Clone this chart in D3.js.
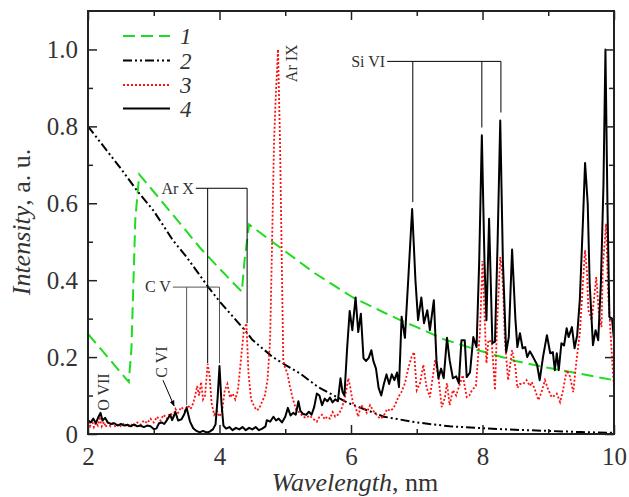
<!DOCTYPE html>
<html>
<head>
<meta charset="utf-8">
<script src="https://cdn.jsdelivr.net/npm/d3@7"></script>
<style>
  body { margin: 0; background: #fff; }
  svg, svg text { font-family: "Liberation Serif", "DejaVu Serif", serif; }
  .tick text { font-size: 25px; fill: #333; }
  .ann { font-size: 16px; fill: #333; }
</style>
</head>
<body>
<div id="chart"></div>
<script>
var width = 629,
  height = 497;
var margins = { top: 11, right: 15, bottom: 63, left: 88 };
var serif = "Liberation Serif";

var legend_labels = ["1", "2", "3", "4"];
var x_ticks = [2, 4, 6, 8, 10];
var x_minor = [3, 5, 7, 9];
var y_ticks = [0, 0.2, 0.4, 0.6, 0.8, 1.0];
var y_minor = [0.1, 0.3, 0.5, 0.7, 0.9];

// 1 - green dashed
var series_1 = [
  [2.0, 0.26], [2.3, 0.2], [2.62, 0.135], [2.66, 0.22], [2.72, 0.56], [2.78, 0.675],
  [3.0, 0.63], [3.5, 0.527], [3.7, 0.485], [4.0, 0.43], [4.34, 0.37], [4.38, 0.45],
  [4.45, 0.545], [5.0, 0.475], [5.45, 0.418], [6.03, 0.355], [6.5, 0.316], [6.75, 0.296],
  [7.0, 0.278], [7.4, 0.247], [7.93, 0.218], [8.5, 0.19], [9.0, 0.172], [9.44, 0.158],
  [10.0, 0.14]
];

// 2 - black dash-dot-dot
var series_2 = [
  [2.0, 0.8], [2.5, 0.69], [2.74, 0.634], [3.0, 0.58], [3.29, 0.504], [3.5, 0.46],
  [3.83, 0.382], [4.0, 0.345], [4.41, 0.265], [4.5, 0.245], [4.81, 0.2], [5.0, 0.18],
  [5.22, 0.158], [5.5, 0.122], [5.93, 0.083], [6.0, 0.078], [6.5, 0.045], [7.0, 0.03],
  [7.5, 0.02], [8.0, 0.015], [8.5, 0.011], [9.0, 0.008], [9.5, 0.005], [10.0, 0.003]
];

// 3 - red dotted
var series_3 = [
  [2.0, 0.03], [2.03, 0.02], [2.06, 0.035], [2.09, 0.018], [2.12, 0.03], [2.15, 0.022],
  [2.18, 0.04], [2.21, 0.02], [2.24, 0.032], [2.27, 0.018], [2.3, 0.03], [2.34, 0.02],
  [2.38, 0.028], [2.42, 0.018], [2.46, 0.026], [2.5, 0.02], [2.55, 0.028], [2.6, 0.018],
  [2.65, 0.026], [2.7, 0.02], [2.75, 0.03], [2.8, 0.024], [2.85, 0.035], [2.9, 0.028],
  [2.95, 0.04], [3.0, 0.03], [3.05, 0.045], [3.1, 0.035], [3.15, 0.05], [3.2, 0.04],
  [3.25, 0.055], [3.3, 0.045], [3.33, 0.065], [3.37, 0.055], [3.42, 0.07], [3.47, 0.06],
  [3.52, 0.075], [3.56, 0.065], [3.6, 0.08], [3.63, 0.1], [3.66, 0.125], [3.69, 0.1],
  [3.72, 0.135], [3.75, 0.09], [3.78, 0.1], [3.82, 0.182], [3.85, 0.15], [3.88, 0.08],
  [3.92, 0.05], [3.96, 0.06], [4.0, 0.045], [4.04, 0.06], [4.08, 0.114], [4.12, 0.13],
  [4.16, 0.095], [4.2, 0.105], [4.24, 0.09], [4.28, 0.114], [4.33, 0.2], [4.37, 0.27],
  [4.41, 0.288], [4.44, 0.16], [4.48, 0.09], [4.52, 0.075], [4.56, 0.062], [4.6, 0.065],
  [4.65, 0.085], [4.69, 0.1], [4.73, 0.14], [4.77, 0.244], [4.8, 0.5], [4.83, 0.764],
  [4.86, 0.894], [4.89, 1.0], [4.92, 0.764], [4.95, 0.418], [4.97, 0.192], [5.0, 0.17],
  [5.03, 0.16], [5.07, 0.125], [5.12, 0.088], [5.17, 0.062], [5.22, 0.055], [5.27, 0.045],
  [5.32, 0.042], [5.37, 0.048], [5.42, 0.04], [5.48, 0.032], [5.52, 0.045], [5.56, 0.05],
  [5.6, 0.038], [5.64, 0.045], [5.68, 0.04], [5.72, 0.057], [5.76, 0.045], [5.8, 0.05],
  [5.85, 0.062], [5.91, 0.096], [5.96, 0.145], [5.99, 0.12], [6.03, 0.08], [6.07, 0.07],
  [6.11, 0.045], [6.15, 0.075], [6.19, 0.07], [6.24, 0.055], [6.29, 0.075], [6.34, 0.06],
  [6.39, 0.05], [6.44, 0.04], [6.49, 0.045], [6.55, 0.065], [6.6, 0.06], [6.65, 0.068],
  [6.72, 0.096], [6.77, 0.11], [6.82, 0.132], [6.87, 0.17], [6.92, 0.2], [6.96, 0.213],
  [7.0, 0.114], [7.05, 0.132], [7.1, 0.18], [7.15, 0.12], [7.2, 0.096], [7.28, 0.192],
  [7.33, 0.148], [7.38, 0.07], [7.43, 0.096], [7.46, 0.132], [7.5, 0.075], [7.55, 0.114],
  [7.6, 0.1], [7.64, 0.122], [7.7, 0.153], [7.76, 0.096], [7.8, 0.1], [7.84, 0.114],
  [7.9, 0.125], [7.96, 0.262], [8.0, 0.45], [8.04, 0.27], [8.06, 0.184], [8.09, 0.244],
  [8.14, 0.24], [8.19, 0.114], [8.22, 0.278], [8.27, 0.46], [8.3, 0.418], [8.32, 0.348],
  [8.34, 0.244], [8.39, 0.14], [8.45, 0.218], [8.5, 0.174], [8.53, 0.12], [8.57, 0.13],
  [8.62, 0.13], [8.67, 0.14], [8.72, 0.125], [8.75, 0.135], [8.8, 0.114], [8.85, 0.088],
  [8.9, 0.11], [8.95, 0.14], [8.99, 0.12], [9.05, 0.096], [9.1, 0.1], [9.13, 0.105],
  [9.18, 0.083], [9.22, 0.11], [9.28, 0.166], [9.33, 0.15], [9.38, 0.109], [9.43, 0.192],
  [9.48, 0.262], [9.53, 0.4], [9.56, 0.478], [9.59, 0.418], [9.61, 0.322], [9.66, 0.296],
  [9.7, 0.357], [9.73, 0.408], [9.77, 0.313], [9.81, 0.278], [9.83, 0.435], [9.88, 0.547],
  [9.91, 0.366], [9.97, 0.2], [10.0, 0.12]
];

// 4 - black solid
var series_4 = [
  [2.0, 0.036], [2.04, 0.03], [2.08, 0.04], [2.12, 0.028], [2.16, 0.045], [2.19, 0.055],
  [2.22, 0.035], [2.26, 0.042], [2.3, 0.03], [2.35, 0.026], [2.4, 0.028], [2.45, 0.022],
  [2.5, 0.026], [2.55, 0.022], [2.6, 0.024], [2.65, 0.02], [2.7, 0.025], [2.75, 0.02],
  [2.8, 0.022], [2.85, 0.018], [2.9, 0.022], [2.95, 0.02], [3.0, 0.013], [3.04, 0.014],
  [3.08, 0.028], [3.12, 0.03], [3.16, 0.026], [3.2, 0.036], [3.25, 0.05], [3.28, 0.036],
  [3.33, 0.057], [3.37, 0.035], [3.42, 0.038], [3.46, 0.05], [3.5, 0.068], [3.55, 0.033],
  [3.6, 0.015], [3.65, 0.008], [3.7, 0.004], [3.75, 0.008], [3.8, 0.004], [3.85, 0.006],
  [3.9, 0.012], [3.94, 0.025], [3.97, 0.09], [4.0, 0.177], [4.03, 0.08], [4.06, 0.022],
  [4.1, 0.014], [4.15, 0.018], [4.2, 0.01], [4.25, 0.016], [4.3, 0.012], [4.35, 0.018],
  [4.4, 0.01], [4.45, 0.016], [4.5, 0.012], [4.55, 0.018], [4.6, 0.01], [4.65, 0.014],
  [4.7, 0.02], [4.72, 0.036], [4.77, 0.032], [4.82, 0.045], [4.86, 0.035], [4.9, 0.04],
  [4.95, 0.03], [5.0, 0.045], [5.04, 0.068], [5.08, 0.048], [5.12, 0.055], [5.16, 0.05],
  [5.2, 0.085], [5.23, 0.06], [5.27, 0.052], [5.32, 0.05], [5.36, 0.058], [5.4, 0.05],
  [5.44, 0.07], [5.48, 0.105], [5.52, 0.1], [5.56, 0.075], [5.6, 0.092], [5.64, 0.085],
  [5.68, 0.095], [5.72, 0.082], [5.76, 0.09], [5.8, 0.085], [5.84, 0.145], [5.87, 0.11],
  [5.9, 0.1], [5.94, 0.22], [5.98, 0.32], [6.02, 0.27], [6.07, 0.355], [6.11, 0.265],
  [6.15, 0.313], [6.19, 0.197], [6.23, 0.19], [6.27, 0.198], [6.31, 0.218], [6.34, 0.19],
  [6.38, 0.17], [6.42, 0.12], [6.46, 0.1], [6.5, 0.13], [6.54, 0.155], [6.58, 0.13],
  [6.62, 0.155], [6.66, 0.14], [6.7, 0.16], [6.73, 0.122], [6.77, 0.305], [6.82, 0.25],
  [6.87, 0.4], [6.93, 0.585], [6.98, 0.4], [7.02, 0.296], [7.07, 0.355], [7.11, 0.288],
  [7.16, 0.322], [7.2, 0.27], [7.26, 0.348], [7.3, 0.192], [7.33, 0.145], [7.37, 0.17],
  [7.41, 0.145], [7.46, 0.25], [7.5, 0.192], [7.55, 0.145], [7.6, 0.15], [7.64, 0.132],
  [7.68, 0.244], [7.73, 0.244], [7.76, 0.148], [7.81, 0.16], [7.86, 0.252], [7.91, 0.226],
  [7.95, 0.45], [7.99, 0.777], [8.03, 0.45], [8.06, 0.296], [8.1, 0.56], [8.15, 0.236],
  [8.19, 0.24], [8.23, 0.5], [8.27, 0.815], [8.31, 0.45], [8.36, 0.213], [8.4, 0.252],
  [8.45, 0.48], [8.5, 0.3], [8.53, 0.226], [8.57, 0.262], [8.61, 0.223], [8.65, 0.226],
  [8.68, 0.2], [8.72, 0.215], [8.77, 0.2], [8.83, 0.18], [8.87, 0.14], [8.92, 0.2],
  [8.98, 0.257], [9.03, 0.21], [9.07, 0.213], [9.1, 0.166], [9.13, 0.21], [9.16, 0.166],
  [9.2, 0.236], [9.24, 0.23], [9.28, 0.275], [9.31, 0.252], [9.36, 0.278], [9.4, 0.223],
  [9.44, 0.257], [9.48, 0.348], [9.53, 0.564], [9.56, 0.705], [9.6, 0.6], [9.63, 0.392],
  [9.68, 0.231], [9.72, 0.27], [9.76, 0.244], [9.8, 0.39], [9.84, 0.65], [9.87, 1.0],
  [9.9, 0.6], [9.93, 0.305], [9.97, 0.3], [10.0, 0.245]
];

var svg = d3
  .select("#chart")
  .append("svg")
  .attr("width", width)
  .attr("height", height)
  .attr("font-family", serif);

var x = d3
  .scaleLinear()
  .domain([2, 10])
  .range([margins.left, width - margins.right]);

var y = d3
  .scaleLinear()
  .domain([0, 1.1])
  .range([height - margins.bottom, margins.top]);

var line = d3
  .line()
  .x((d) => x(d[0]))
  .y((d) => y(d[1]));

// Curves
svg.append("path").datum(series_1).attr("d", line)
  .attr("fill", "none").attr("stroke", "#1edc1e").attr("stroke-width", 2)
  .attr("stroke-dasharray", "12,6");

svg.append("path").datum(series_2).attr("d", line)
  .attr("fill", "none").attr("stroke", "#000").attr("stroke-width", 2)
  .attr("stroke-dasharray", "9,3,2,3,2,3");

svg.append("path").datum(series_3).attr("d", line)
  .attr("fill", "none").attr("stroke", "#ff1010").attr("stroke-width", 1.8)
  .attr("stroke-dasharray", "2,2");

svg.append("path").datum(series_4).attr("d", line)
  .attr("fill", "none").attr("stroke", "#000").attr("stroke-width", 2)
  .attr("stroke-linejoin", "round");

// Axes, ticks pointing inwards
function styleAxis(g) {
  g.attr("font-family", serif).attr("font-size", 25);
  g.select(".domain").remove();
  g.selectAll(".tick line").attr("stroke", "#222").attr("stroke-width", 1.5);
  g.selectAll(".tick text").attr("font-family", serif).attr("fill", "#333");
}

svg.append("g")
  .attr("transform", "translate(0," + y(0) + ")")
  .call(d3.axisBottom(x).tickValues(x_ticks).tickSize(-9).tickPadding(13).tickFormat(d3.format("d")))
  .call(styleAxis);
svg.append("g")
  .attr("transform", "translate(0," + y(0) + ")")
  .call(d3.axisBottom(x).tickValues(x_minor).tickSize(-5).tickFormat(""))
  .call(styleAxis);
svg.append("g")
  .attr("transform", "translate(0," + y(1.1) + ")")
  .call(d3.axisTop(x).tickValues(x_ticks).tickSize(-9).tickFormat(""))
  .call(styleAxis);
svg.append("g")
  .attr("transform", "translate(0," + y(1.1) + ")")
  .call(d3.axisTop(x).tickValues(x_minor).tickSize(-5).tickFormat(""))
  .call(styleAxis);

svg.append("g")
  .attr("transform", "translate(" + x(2) + ",0)")
  .call(d3.axisLeft(y).tickValues(y_ticks).tickSize(-9).tickPadding(10)
    .tickFormat((d) => (d === 0 ? "0" : d3.format(".1f")(d))))
  .call(styleAxis);
svg.append("g")
  .attr("transform", "translate(" + x(2) + ",0)")
  .call(d3.axisLeft(y).tickValues(y_minor).tickSize(-5).tickFormat(""))
  .call(styleAxis);
svg.append("g")
  .attr("transform", "translate(" + x(10) + ",0)")
  .call(d3.axisRight(y).tickValues(y_ticks).tickSize(-9).tickFormat(""))
  .call(styleAxis);
svg.append("g")
  .attr("transform", "translate(" + x(10) + ",0)")
  .call(d3.axisRight(y).tickValues(y_minor).tickSize(-5).tickFormat(""))
  .call(styleAxis);

// Frame
svg.append("rect")
  .attr("x", x(2)).attr("y", y(1.1))
  .attr("width", x(10) - x(2)).attr("height", y(0) - y(1.1))
  .attr("fill", "none").attr("stroke", "#222").attr("stroke-width", 2);

// Axis titles
var ytitle = svg.append("text")
  .attr("transform", "translate(30," + 222 + ") rotate(-90)")
  .attr("text-anchor", "middle")
  .attr("font-family", serif)
  .attr("font-size", 26).attr("fill", "#333");
ytitle.append("tspan").attr("font-style", "italic").text("Intensity");
ytitle.append("tspan").text(", a. u.");

var xtitle = svg.append("text")
  .attr("x", 355).attr("y", 491)
  .attr("text-anchor", "middle")
  .attr("font-family", serif)
  .attr("font-size", 26).attr("fill", "#333");
xtitle.append("tspan").attr("font-style", "italic").text("Wavelength");
xtitle.append("tspan").text(", nm");

// Legend
var legend_styles = [
  { stroke: "#1edc1e", dash: "12,6", w: 2 },
  { stroke: "#000", dash: "9,3,2,3,2,3", w: 2 },
  { stroke: "#ff1010", dash: "2,2", w: 1.8 },
  { stroke: "#000", dash: null, w: 2 }
];
var legend_y = [36, 60.5, 85, 108.5];

legend_labels.forEach(function (lab, i) {
  svg.append("line")
    .attr("x1", 123).attr("x2", 170)
    .attr("y1", legend_y[i]).attr("y2", legend_y[i])
    .attr("stroke", legend_styles[i].stroke)
    .attr("stroke-width", legend_styles[i].w)
    .attr("stroke-dasharray", legend_styles[i].dash);
  svg.append("text")
    .attr("x", 180).attr("y", legend_y[i] + 8)
    .attr("font-family", serif)
    .attr("font-size", 23).attr("font-style", "italic").attr("fill", "#333")
    .text(lab);
});

// Line annotations
function bracket(label, ly, x0, x1, drops, color) {
  svg.append("line")
    .attr("x1", x(x0)).attr("x2", x(x1))
    .attr("y1", y(ly)).attr("y2", y(ly))
    .attr("stroke", color).attr("stroke-width", 1);
  drops.forEach(function (d) {
    svg.append("line")
      .attr("x1", x(d[0])).attr("x2", x(d[0]))
      .attr("y1", y(ly)).attr("y2", y(d[1]))
      .attr("stroke", color).attr("stroke-width", 1);
  });
  svg.append("text")
    .attr("class", "ann")
    .attr("x", x(x0) - 2).attr("y", y(ly))
    .attr("dy", "0.33em")
    .attr("text-anchor", "end")
    .text(label);
}

bracket("C V", 0.382, 3.29, 4.0, [[3.5, 0.075], [4.0, 0.184]], "#555");
bracket("Ar X", 0.639, 3.64, 4.42, [[3.82, 0.184], [4.42, 0.288]], "#000");
bracket("Si VI", 0.969, 6.55, 8.28, [[6.94, 0.603], [7.99, 0.797], [8.28, 0.836]], "#000");

function vlabel(label, lx, ly) {
  svg.append("text")
    .attr("class", "ann")
    .attr("transform", "translate(" + x(lx) + "," + y(ly) + ") rotate(-90)")
    .attr("text-anchor", "middle")
    .attr("dy", "0.35em")
    .text(label);
}

vlabel("O VII", 2.24, 0.109);
vlabel("C VI", 3.11, 0.187);
vlabel("Ar IX", 5.1, 0.964);

// Arrow for C VI
svg.append("defs").append("marker")
  .attr("id", "arrow")
  .attr("viewBox", "0 0 10 10")
  .attr("refX", 9).attr("refY", 5)
  .attr("markerWidth", 6).attr("markerHeight", 6)
  .attr("orient", "auto")
  .append("path").attr("d", "M0,1L10,5L0,9Z").attr("fill", "#000");

svg.append("line")
  .attr("x1", x(3.14)).attr("y1", y(0.14))
  .attr("x2", x(3.31)).attr("y2", y(0.073))
  .attr("stroke", "#000").attr("stroke-width", 1)
  .attr("marker-end", "url(#arrow)");
</script>
</body>
</html>
